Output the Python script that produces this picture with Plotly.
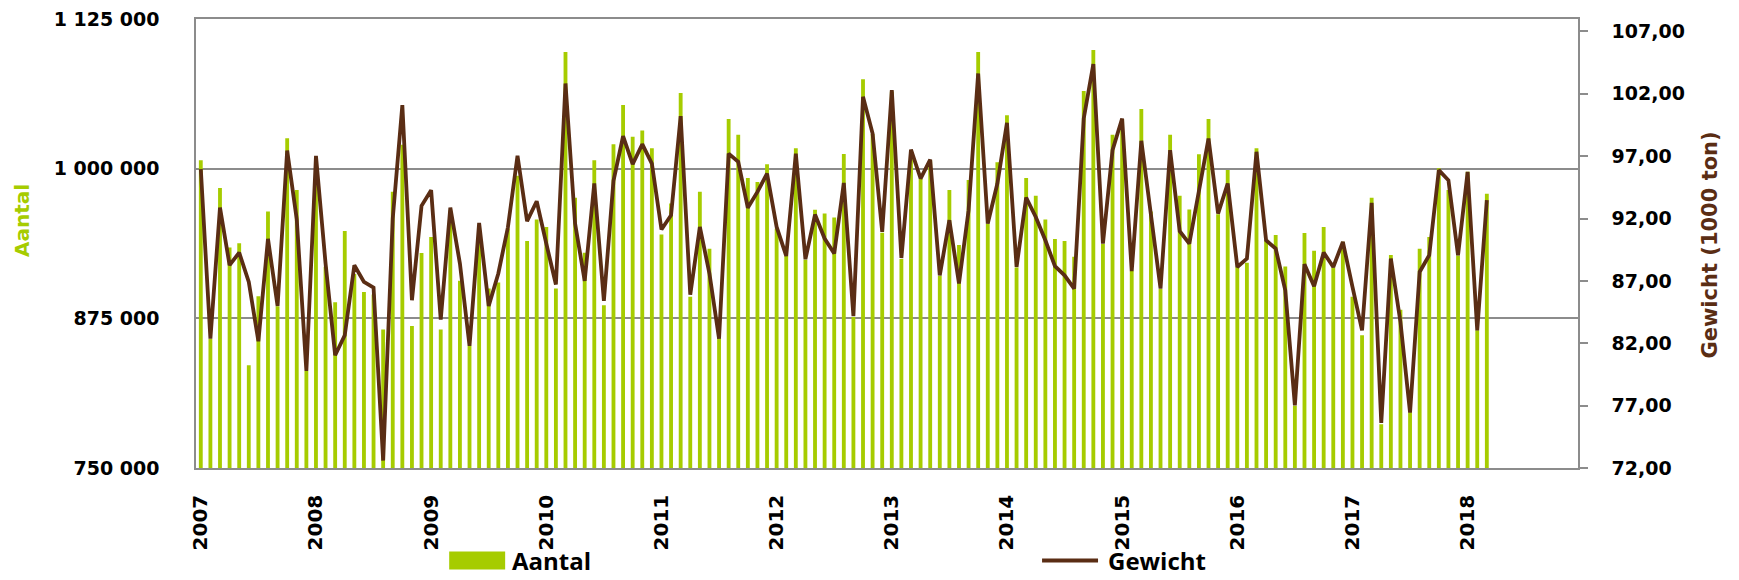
import plotly.graph_objects as go

# ---- data -------------------------------------------------------------
years = ["2007", "2008", "2009", "2010", "2011", "2012",
         "2013", "2014", "2015", "2016", "2017", "2018"]
month_nums = ["01", "02", "03", "04", "05", "06",
              "07", "08", "09", "10", "11", "12"]

# Aantal (monthly count), Jan 2007 - Mar 2018
aantal = [
    1007000, 858000, 983800, 934200, 937800, 835800, 893500, 964300, 885000, 1025400, 982200, 831000,
    1000000, 918100, 888500, 947900, 912000, 896900, 895000, 865700, 980800, 1020000, 868700, 929500,
    942900, 865700, 965000, 906300, 852000, 948000, 899900, 905000, 950000, 994100, 939500, 957600,
    951200, 900000, 1097500, 975700, 929800, 1007000, 886000, 1020300, 1053200, 1026700, 1031800, 1017000,
    945000, 971000, 1063300, 893000, 980800, 933100, 862000, 1041500, 1028400, 992200, 988800, 1003600,
    950000, 927000, 1017000, 924000, 965700, 962600, 959300, 1012300, 876200, 1074700, 1029000, 946500,
    1064500, 924500, 1015600, 991500, 1007000, 910500, 982200, 936200, 990500, 1097500, 954000, 1005300,
    1044600, 917500, 992200, 977400, 957600, 941200, 939500, 926400, 1064900, 1099200, 937000, 1028400,
    1041500, 914800, 1049900, 964300, 899500, 1028400, 977400, 966000, 1012000, 1041500, 962000, 998900,
    918100, 921400, 1017000, 940400, 944500, 918300, 802000, 946200, 931400, 951200, 917500, 939000,
    893000, 860900, 975700, 786500, 927800, 882100, 796500, 933100, 942900, 1000300, 982200, 927500,
    997500, 865000, 979100,
]

# Gewicht (1000 ton), Jan 2007 - Mar 2018
gewicht = [
    95.96, 82.37, 92.88, 88.26, 89.27, 86.92, 82.16, 90.37, 84.99, 97.45, 91.92, 79.78,
    97.03, 88.40, 81.04, 82.64, 88.26, 86.92, 86.47, 72.60, 92.00, 101.09, 85.45, 93.02,
    94.27, 83.90, 92.88, 88.39, 81.79, 91.65, 84.99, 87.60, 91.30, 97.03, 91.79, 93.39,
    89.99, 86.71, 102.83, 91.60, 87.00, 94.81, 85.40, 95.02, 98.60, 96.36, 97.96, 96.41,
    91.12, 92.27, 100.21, 85.90, 91.33, 87.59, 82.37, 97.21, 96.55, 92.86, 94.14, 95.61,
    91.33, 89.00, 97.21, 88.74, 92.32, 90.40, 89.19, 94.86, 84.17, 101.76, 98.82, 90.93,
    102.29, 88.84, 97.53, 95.21, 96.73, 87.45, 91.87, 86.79, 92.67, 103.63, 91.60, 94.81,
    99.67, 88.12, 93.68, 92.13, 90.26, 88.18, 87.45, 86.39, 100.02, 104.38, 89.99, 97.48,
    100.02, 87.78, 98.23, 92.27, 86.39, 97.48, 90.98, 89.99, 94.27, 98.42, 92.40, 94.81,
    88.12, 88.79, 97.35, 90.26, 89.59, 86.25, 77.03, 88.34, 86.57, 89.27, 88.12, 90.13,
    86.52, 83.04, 93.26, 75.61, 88.79, 83.71, 76.44, 87.72, 89.06, 95.88, 95.07, 89.06,
    95.74, 83.04, 93.47,
]

left_ticks = [750000, 875000, 1000000, 1125000]
left_tick_text = ["750 000", "875 000", "1 000 000", "1 125 000"]
right_ticks = [72, 77, 82, 87, 92, 97, 102, 107]
right_tick_text = ["72,00", "77,00", "82,00", "87,00", "92,00", "97,00", "102,00", "107,00"]

# ---- build ------------------------------------------------------------
all_months = [f"{y}-{m}" for y in years for m in month_nums]
months = all_months[:len(aantal)]
year_ticks = [f"{y}-01" for y in years]

GREEN = "#A6CC00"
BROWN = "#5A2D14"
GRID = "#8C8C8C"
FONT = "DejaVu Sans"
LFONT = "Open Sans"

fig = go.Figure()
fig.add_trace(go.Bar(
    x=months, y=aantal, name="Aantal",
    marker=dict(color=GREEN, line=dict(width=0)),
    yaxis="y", showlegend=False,
))
fig.add_trace(go.Scatter(
    x=months, y=gewicht, name="Gewicht", mode="lines",
    line=dict(color=BROWN, width=3.8, shape="linear"),
    yaxis="y2", showlegend=False,
))

ytickfont = dict(family=FONT, size=19, color="black", weight="bold")
xtickfont = dict(family=FONT, size=20, color="black", weight="bold")

# legend drawn as shapes + text, positioned in paper coordinates
LEG_Y = -0.206
legend_shapes = [
    dict(type="rect", xref="paper", yref="paper",
         x0=0.1832, x1=0.2237, y0=LEG_Y - 0.02, y1=LEG_Y + 0.02,
         fillcolor=GREEN, line=dict(width=0)),
    dict(type="line", xref="paper", yref="paper",
         x0=0.6122, x1=0.6527, y0=LEG_Y, y1=LEG_Y,
         line=dict(color=BROWN, width=3.8)),
]
legend_font = dict(family=LFONT, size=24, color="black", weight="bold")

fig.update_layout(
    width=1731, height=572,
    margin=dict(l=188, r=161, t=11, b=112, autoexpand=False),
    paper_bgcolor="white", plot_bgcolor="white",
    bargap=0.6,
    showlegend=False,
    xaxis=dict(
        type="category", categoryorder="array", categoryarray=all_months,
        range=[-0.5, len(all_months) - 0.5],
        tickmode="array", tickvals=year_ticks, ticktext=years,
        tickangle=-90, tickfont=xtickfont, ticks="", ticklabelstandoff=17,
        showgrid=False, showline=True, linecolor=GRID, linewidth=1.5,
        mirror=True, zeroline=False, automargin=False,
    ),
    yaxis=dict(
        range=[750000, 1125000], tickmode="array",
        tickvals=left_ticks, ticktext=left_tick_text, tickfont=ytickfont,
        showgrid=True, gridcolor=GRID, gridwidth=1.5,
        showline=True, linecolor=GRID, linewidth=1.5, mirror=True,
        ticks="", ticklabelstandoff=31, zeroline=False, automargin=False,
        ticklabeloverflow="allow",
    ),
    yaxis2=dict(
        overlaying="y", side="right", range=[72, 108],
        tickmode="array", tickvals=right_ticks, ticktext=right_tick_text,
        tickfont=ytickfont, showgrid=False, zeroline=False,
        showline=True, linecolor=GRID, linewidth=1.5,
        ticks="outside", ticklen=8, tickcolor=GRID, tickwidth=1.5,
        ticklabelstandoff=20, automargin=False, ticklabeloverflow="allow",
    ),
    shapes=legend_shapes,
    annotations=[
        dict(text="Aantal", xref="paper", yref="paper",
             x=-0.1259, y=0.55, xanchor="center", yanchor="middle",
             textangle=-90, showarrow=False,
             font=dict(family=FONT, size=20, color=GREEN, weight="bold")),
        dict(text="Gewicht (1000 ton)", xref="paper", yref="paper",
             x=1.0952, y=0.4967, xanchor="center", yanchor="middle",
             textangle=-90, showarrow=False,
             font=dict(family=FONT, size=21, color=BROWN, weight="bold")),
        dict(text="Aantal", xref="paper", yref="paper",
             x=0.2272, y=LEG_Y, xanchor="left", yanchor="middle",
             showarrow=False, font=legend_font),
        dict(text="Gewicht", xref="paper", yref="paper",
             x=0.6585, y=LEG_Y, xanchor="left", yanchor="middle",
             showarrow=False, font=legend_font),
    ],
)

fig.write_html("out.html")
